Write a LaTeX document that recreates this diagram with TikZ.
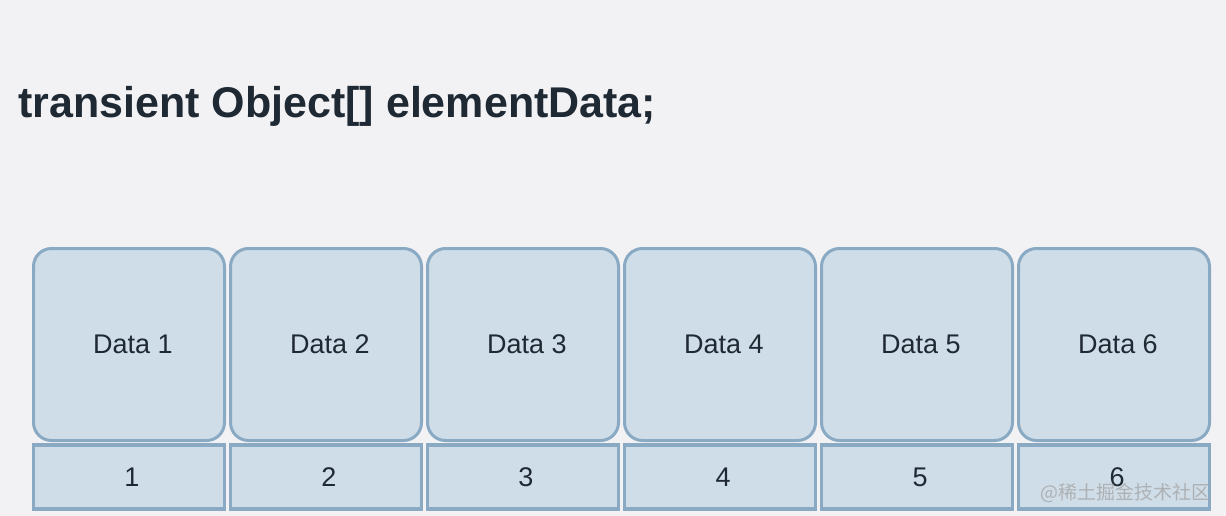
\documentclass[tikz,border=0pt]{standalone}
\usepackage{fontspec}
\setmainfont{Liberation Sans}
\newfontfamily\cjk{Noto Sans CJK SC}
\definecolor{bg}{HTML}{F2F2F5}
\definecolor{cellfill}{HTML}{CFDDE8}
\definecolor{cellline}{HTML}{8AAAC4}
\definecolor{txt}{HTML}{1F2933}
\tikzset{
  databox/.style={draw=cellline, fill=cellfill, line width=3pt, rounded corners=18pt,
    minimum width=191pt, minimum height=192pt, inner sep=0pt, text=txt,
    font=\fontsize{27pt}{30pt}\selectfont},
  idxbox/.style={draw=cellline, fill=cellfill, line width=3.5pt,
    minimum width=191pt, minimum height=64pt, inner sep=0pt, text=txt,
    font=\fontsize{27pt}{30pt}\selectfont},
}
\begin{document}
\begin{tikzpicture}[x=1pt,y=-1pt]
\fill[bg] (0,0) rectangle (1226,516);
\useasboundingbox (0,0) rectangle (1226,516);
\node[anchor=base west, text=txt, inner sep=0pt, font=\fontsize{43pt}{48pt}\selectfont\bfseries] (title) at (18,118) {transient Object[] elementData;};
\foreach \i in {1,...,6}{
  \pgfmathsetmacro{\cx}{129+197*(\i-1)}
  \node[databox] (d\i) at (\cx,344.5) {\hspace*{8pt}Data \i};
  \node[idxbox] (n\i) at (\cx,477) {\hspace*{6pt}\i};
}
\node[anchor=base east, inner sep=0pt, text=gray!70, opacity=0.8, font=\cjk\fontsize{19pt}{22pt}\selectfont] (wm) at (1211,499) {@稀土掘金技术社区};
\end{tikzpicture}
\end{document}
